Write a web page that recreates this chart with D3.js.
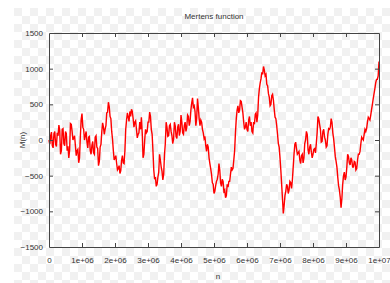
<!DOCTYPE html>
<html>
<head>
<meta charset="utf-8">
<script src="https://cdn.jsdelivr.net/npm/d3@7"></script>
<style>
  body { margin: 0; background: #fff; }
  svg { display: block; font-family: "Liberation Sans", Arial, sans-serif; }
</style>
</head>
<body>
<svg id="chart" width="390" height="283"></svg>
<script>
// M(n) read at n = 0, 0.05e6, 0.10e6, ... 1e7
const mOnGrid = [
  0, 60, -80, 90, -60, 100, 210, -200, 150, -50,
  120, -150, -250, 230, 120, 30, -80, -150, -320, 50,
  370, 150, 60, -30, 40, -150, -80, -180, 40, -100,
  -360, -100, 120, 180, 150, 380, 530, 330, 120, -150,
  -250, -330, -400, -470, -280, -320, -150, 280, 320, 400,
  430, 300, 250, 150, 80, 250, 320, -250, 0, 100,
  250, 390, 150, -150, -550, -650, -520, -200, -380, -560,
  -200, 250, 50, 200, 120, -50, 250, 50, 180, 60,
  350, 100, 200, 120, 350, 200, 420, 590, 480, 200,
  580, 300, 280, 150, 20, -80, -60, -250, -400, -600,
  -750, -640, -550, -330, -600, -550, -720, -810, -620, -580,
  -480, -420, -280, 100, 420, 380, 550, 460, 250, 180,
  150, 280, 200, 120, 250, 360, 250, 600, 800, 950,
  1030, 900, 780, 650, 480, 620, 560, 320, 200, -50,
  -250, -620, -1030, -780, -620, -750, -580, -680, -380, -60,
  -120, -180, -280, -220, -320, -50, 120, -140, -100, -170,
  -200, -120, -50, 330, 220, -30, 120, 40, -100, 80,
  150, 300, 100, -100, -300, -520, -700, -950, -620, -450,
  -520, -200, -320, -250, -380, -300, -420, -280, -200, -50,
  20, 80, 120, 250, 300, 350, 500, 650, 800, 850,
  1100
];
// M(n) read at the in-between points n = 0.025e6, 0.075e6, ...
const mBetween = [
  -60, 110, -110, 120, -90, 60, 130, -150, 160, -80,
  90, -90, -140, 220, 0, 60, -220, -130, -250, 290,
  180, 0, 120, -110, 50, -200, -20, -200, 60, -120,
  -300, -60, 240, 80, 200, 390, 470, 300, 10, -280,
  -220, -420, -360, -430, -220, -330, 150, 380, 260, 330,
  400, 180, 270, 30, 100, 150, 100, -200, 150, 120,
  250, 330, 80, -420, -520, -620, -450, -280, -440, -480,
  -50, 180, 60, 220, 60, 10, 200, 20, 220, 120,
  250, 80, 250, 180, 330, 260, 520, 460, 400, 300,
  460, 200, 250, 100, 50, -160, -100, -330, -480, -620,
  -720, -580, -480, -420, -650, -580, -700, -780, -660, -580,
  -380, -400, -150, 300, 480, 420, 540, 380, 150, 250,
  120, 330, 250, 100, 220, 380, 350, 720, 860, 920,
  980, 920, 760, 600, 500, 640, 430, 300, 80, -100,
  -420, -820, -920, -720, -650, -700, -600, -560, -200, -30,
  -200, -160, -330, -200, -250, 0, 80, -200, -60, -250,
  -130, -180, 100, 300, 150, -20, 150, 0, -80, 160,
  180, 250, 20, -230, -380, -640, -800, -820, -500, -560,
  -380, -230, -350, -280, -380, -310, -400, -200, -160, 40,
  0, 150, 160, 320, 280, 430, 580, 720, 850, 900
];
const xTicks = d3.range(0, 11).map(i => i * 1e6);
const xTickLabels = ["0", "1e+06", "2e+06", "3e+06", "4e+06", "5e+06", "6e+06", "7e+06", "8e+06", "9e+06", "1e+07"];
const yTicks = [-1500, -1000, -500, 0, 500, 1000, 1500];

const data = [];
mOnGrid.forEach((m, i) => {
  data.push({n: i * 0.05e6, m: m});
  if (i < mBetween.length) data.push({n: i * 0.05e6 + 0.025e6, m: mBetween[i]});
});

const svg = d3.select("#chart");
const margin = {left: 49, right: 11, top: 33, bottom: 36};
const width = 390, height = 283;

// transparent-image checkerboard backdrop
const defs = svg.append("defs");
const pat = defs.append("pattern")
  .attr("id", "checker")
  .attr("width", 16).attr("height", 16)
  .attr("patternUnits", "userSpaceOnUse")
  .attr("x", 14).attr("y", 8);
pat.append("rect").attr("width", 16).attr("height", 16).attr("fill", "#ffffff");
pat.append("rect").attr("width", 8).attr("height", 8).attr("fill", "#f1f1f1");
pat.append("rect").attr("x", 8).attr("y", 8).attr("width", 8).attr("height", 8).attr("fill", "#f1f1f1");
svg.append("rect")
  .attr("x", 14).attr("y", 8)
  .attr("width", width - 14).attr("height", height - 8)
  .attr("fill", "url(#checker)");

const x = d3.scaleLinear().domain([0, 1e7]).range([margin.left, width - margin.right]);
const y = d3.scaleLinear().domain([-1500, 1500]).range([height - margin.bottom, margin.top]);

const axisColor = "#444";

// line
const line = d3.line()
  .x(d => x(d.n))
  .y(d => y(d.m));

svg.append("path")
  .datum(data)
  .attr("d", line)
  .attr("fill", "none")
  .attr("stroke", "#ff0000")
  .attr("stroke-width", 1.4)
  .attr("stroke-linejoin", "miter");

// axes (gnuplot style: inward ticks, mirrored)
const tickLen = 4;
const fmtX = (d, i) => xTickLabels[i];

const axBottom = svg.append("g")
  .attr("transform", `translate(0,${y(-1500)})`)
  .call(d3.axisBottom(x).tickValues(xTicks).tickFormat(fmtX).tickSizeInner(-tickLen).tickSizeOuter(0).tickPadding(10));
const axTop = svg.append("g")
  .attr("transform", `translate(0,${y(1500)})`)
  .call(d3.axisTop(x).tickValues(xTicks).tickFormat("").tickSizeInner(-tickLen).tickSizeOuter(0));
const axLeft = svg.append("g")
  .attr("transform", `translate(${x(0)},0)`)
  .call(d3.axisLeft(y).tickValues(yTicks).tickFormat(d3.format("d")).tickSizeInner(-tickLen).tickSizeOuter(0).tickPadding(6));
const axRight = svg.append("g")
  .attr("transform", `translate(${x(1e7)},0)`)
  .call(d3.axisRight(y).tickValues(yTicks).tickFormat("").tickSizeInner(-tickLen).tickSizeOuter(0));

[axBottom, axTop, axLeft, axRight].forEach(g => {
  g.select(".domain").attr("stroke", axisColor).attr("stroke-width", 1);
  g.selectAll(".tick line").attr("stroke", axisColor);
  g.selectAll(".tick text").attr("fill", "#333").style("font-size", "8px").style("font-family", "Liberation Sans, Arial, sans-serif");
});
// end ticks sit on the border
axLeft.selectAll(".tick line").filter(d => d === 1500 || d === -1500).remove();
axRight.selectAll(".tick line").filter(d => d === 1500 || d === -1500).remove();
axBottom.selectAll(".tick line").filter(d => d === 0 || d === 1e7).remove();
axTop.selectAll(".tick line").filter(d => d === 0 || d === 1e7).remove();

// titles
svg.append("text")
  .attr("x", (x(0) + x(1e7)) / 2)
  .attr("y", 19)
  .attr("text-anchor", "middle")
  .attr("fill", "#333")
  .style("font-size", "8px")
  .text("Mertens function");

svg.append("text")
  .attr("x", (x(0) + x(1e7)) / 2 + 4)
  .attr("y", 279)
  .attr("text-anchor", "middle")
  .attr("fill", "#333")
  .style("font-size", "8px")
  .text("n");

svg.append("text")
  .attr("transform", `translate(25,${y(0)}) rotate(-90)`)
  .attr("text-anchor", "middle")
  .attr("fill", "#333")
  .style("font-size", "8px")
  .text("M(n)");
</script>
</body>
</html>
